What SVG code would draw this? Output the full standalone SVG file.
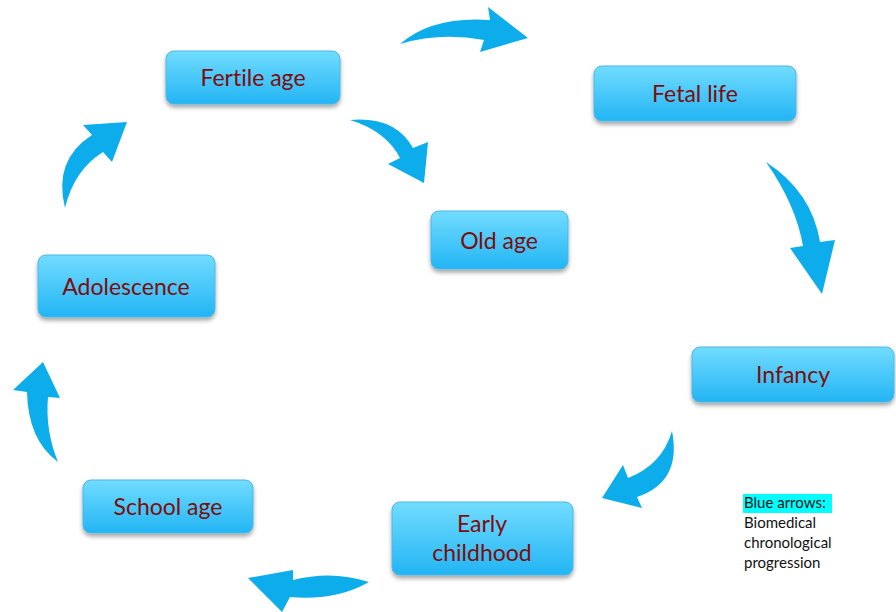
<svg xmlns="http://www.w3.org/2000/svg" width="896" height="612" viewBox="0 0 896 612">
<defs>
<linearGradient id="g" x1="0" y1="0" x2="0" y2="1">
<stop offset="0" stop-color="#72DCFF"/>
<stop offset="1" stop-color="#22B5F4"/>
</linearGradient>
<filter id="sh" x="-10%" y="-20%" width="120%" height="150%">
<feDropShadow dx="0" dy="3" stdDeviation="2" flood-color="#000" flood-opacity="0.35"/>
</filter>
</defs>
<style>
.box{fill:url(#g);stroke:#4DB7E6;stroke-width:1;filter:url(#sh)}
.lbl{font-family:Lato,"Open Sans","Liberation Sans",sans-serif;font-size:23px;fill:#7E0C0C;text-anchor:middle;font-variant-ligatures:none}
.arr{fill:#0DADEC}
.leg{font-family:Lato,"Open Sans","Liberation Sans",sans-serif;font-size:15px;fill:#111;font-variant-ligatures:none}
</style>
<rect width="896" height="612" fill="#fff"/>
<g id="connectors">
<path class="arr" d="M400,44 Q432,16 490,20 L488,7 L528,38 L480,52 L484,40 Q440,32 400,44 Z"/>
<path class="arr" d="M350,120 Q395,116 413,148 L428,142 L424,183 L388,164 L400,158 Q386,131 350,120 Z"/>
<path class="arr" d="M766,162 Q812,192 820,242 L835,240 L822,294 L790,248 L803,246 Q796,205 766,162 Z"/>
<path class="arr" d="M672,431 Q682,482 637,497 L642,508 L602,498 L623,465 L628,478 Q662,465 672,431 Z"/>
<path class="arr" d="M369,582 Q332,570 293,580 L293,570 L248,578 L282,612 L290,597 Q336,601 369,582 Z"/>
<path class="arr" d="M58,462 Q28,440 27,392 L13,390 L43,362 L60,398 L48,397 Q45,430 58,462 Z"/>
<path class="arr" d="M65,208 Q53,160 92,135 L83,125 L127,122 L112,162 L103,152 Q74,170 65,208 Z"/>
</g>
<g id="fertile">
<rect class="box" x="166" y="51" width="174" height="53" rx="8"/>
<text class="lbl" x="253" y="86">Fertile age</text>
</g>
<g id="fetal">
<rect class="box" x="594" y="66" width="202" height="55" rx="8"/>
<text class="lbl" x="695" y="102">Fetal life</text>
</g>
<g id="oldage">
<rect class="box" x="431" y="211" width="137" height="58" rx="8"/>
<text class="lbl" x="499" y="249">Old age</text>
</g>
<g id="adolescence">
<rect class="box" x="38" y="255" width="177" height="62" rx="8"/>
<text class="lbl" x="126" y="295">Adolescence</text>
</g>
<g id="infancy">
<rect class="box" x="692" y="347" width="202" height="55" rx="8"/>
<text class="lbl" x="793" y="383">Infancy</text>
</g>
<g id="early">
<rect class="box" x="392" y="502" width="181" height="73" rx="8"/>
<text class="lbl" x="482" y="532">Early</text>
<text class="lbl" x="482" y="561">childhood</text>
</g>
<g id="school">
<rect class="box" x="83" y="480" width="170" height="53" rx="8"/>
<text class="lbl" x="168" y="515">School age</text>
</g>
<g id="legend">
<rect x="743" y="494" width="89" height="19" fill="#00FFFF"/>
<text class="leg" x="744" y="508">Blue arrows:</text>
<text class="leg" x="744" y="528">Biomedical</text>
<text class="leg" x="744" y="548">chronological</text>
<text class="leg" x="744" y="568">progression</text>
</g>
</svg>
